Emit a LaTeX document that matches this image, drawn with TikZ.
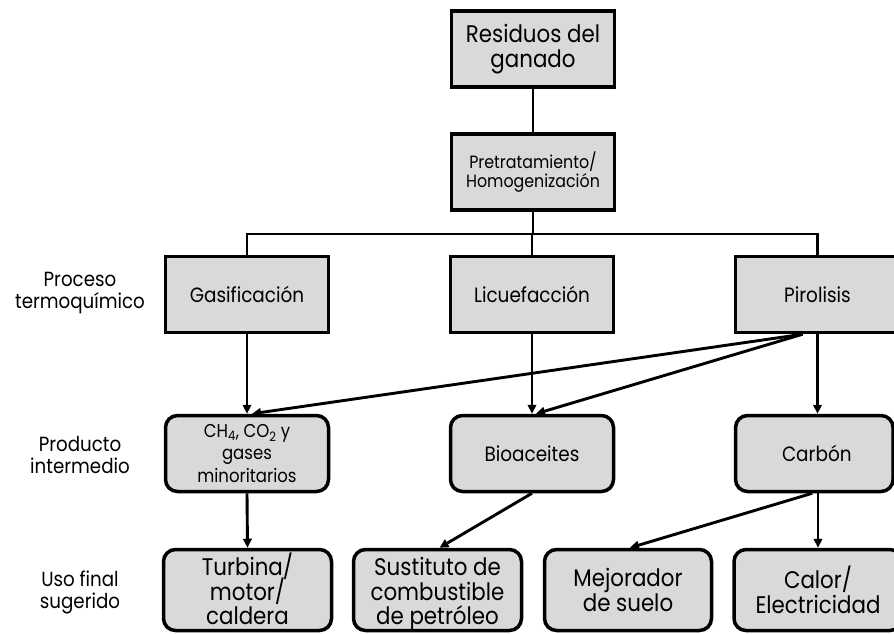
\documentclass[tikz,border=0pt]{standalone}
\usepackage{fontspec}
\setmainfont{Poppins}[FakeStretch=0.89]
\usetikzlibrary{arrows.meta}
\definecolor{boxgray}{HTML}{D9D9D9}
% fixed line pitch inside the boxes, whatever the glyph heights
\newcommand{\tightlines}{\lineskiplimit=-30pt\lineskip=0pt}
\begin{document}
\begin{tikzpicture}[x=1pt,y=-1pt,
  sq/.style={draw, line width=3.5pt, fill=boxgray, align=center, inner sep=0pt,
    minimum width=163pt, minimum height=76pt},
  rd/.style={sq, rounded corners=12pt},
  ln/.style={line width=2.9pt},
  arr/.style={ln, -{Triangle[length=9pt,width=8.5pt]}},
  side/.style={align=center, font=\fontsize{20.5}{22}\selectfont\tightlines},
  big/.style={font=\fontsize{24}{24.5}\selectfont\tightlines},
  mid/.style={font=\fontsize{20.7}{22}\selectfont\tightlines},
  gasf/.style={font=\fontsize{18.6}{22.5}\selectfont\tightlines},
  small/.style={font=\fontsize{17.8}{18.5}\selectfont\tightlines},
  three/.style={text height=69pt, text depth=0pt}]
\useasboundingbox (0,0) rectangle (894,633);

% top of the chain
\node[sq, big] (res) at (533,49) {Residuos del\\ganado};
\node[sq, small] (pre) at (533,172) {Pretratamiento/\\Homogenización};

% thermochemical processes
\node[sq, mid] (gas) at (247,294.5) {Gasificación};
\node[sq, mid] (lic) at (532,294.5) {Licuefacción};
\node[sq, mid, minimum width=164pt] (pir) at (817.5,294.5) {Pirolisis};

% intermediate products
\node[rd, gasf] (ch4) at (247,453.5) {CH\textsubscript{4}, CO\textsubscript{2} y\\gases\\minoritarios};
\node[rd, mid] (bio) at (532,453.5) {Bioaceites};
\node[rd, mid, minimum width=157.5pt] (car) at (814.3,453.5) {\hspace*{5pt}Carbón};

% end uses
\node[rd, big, three, minimum width=168pt, minimum height=81pt] (tur) at (247.5,590) {Turbina/\\motor/\\caldera};
\node[rd, big, three, minimum width=168pt, minimum height=81pt] (sus) at (437.5,590) {Sustituto de\\combustible\\de petróleo};
\node[rd, big, minimum width=167pt, minimum height=81pt] (mej) at (628,590) {Mejorador\\de suelo};
\node[rd, big, minimum width=168pt, minimum height=81pt] (cal) at (818,590) {Calor/\\Electricidad};

% row labels
\node[side] (l1) at (80,293) {Proceso\\termoquímico};
\node[side] (l2) at (80,455) {Producto\\intermedio};
\node[side] (l3) at (80,592) {Uso final\\sugerido};

% connectors
\coordinate (bar) at (533,234);
\draw[ln] (res.south) -- (pre.north);
\draw[ln] (pre.south) -- (bar);
\draw[ln] (gas.north) -- (gas.north |- bar) -- (pir.north |- bar) -- (pir.north);
\draw[ln] (lic.north) -- (lic.north |- bar);

\draw[arr] (gas.south) -- (ch4.north);
\draw[arr] (lic.south) -- (bio.north);
\draw[arr] ([xshift=-15pt]pir.south) -- ([xshift=5pt]ch4.north);
\draw[arr] ([xshift=-15pt]pir.south) -- ([xshift=4pt]bio.north);
\draw[arr] (pir.south) -- (pir.south |- car.north);

\draw[arr] (ch4.south) -- (tur.north);
\draw[arr] (bio.south) -- ([xshift=2pt]sus.north);
\draw[arr] ([xshift=-2pt]car.south) -- ([xshift=2pt]mej.north);
\draw[arr] (cal.north |- car.south) -- (cal.north);
\end{tikzpicture}
\end{document}
